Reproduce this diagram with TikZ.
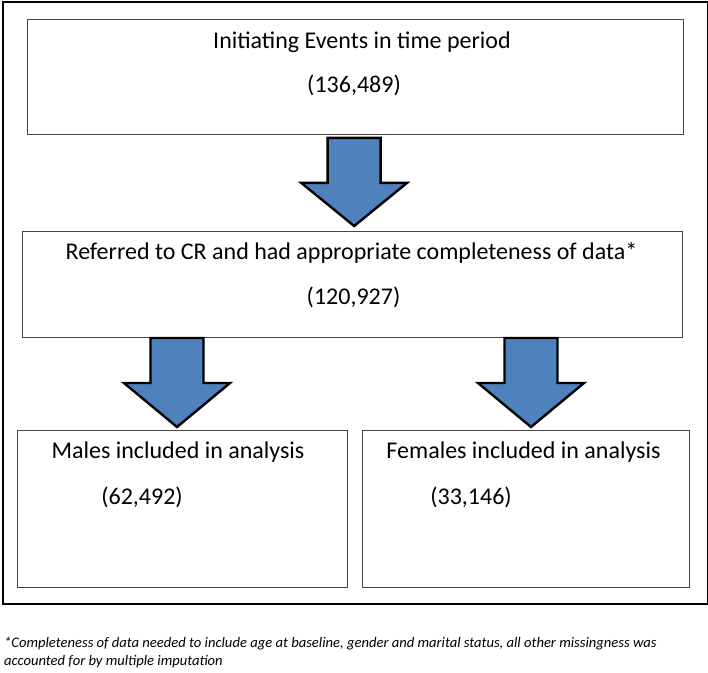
\documentclass[tikz,border=0pt]{standalone}
\usepackage{fontspec}
\setmainfont{Carlito}
\usetikzlibrary{calc}
\definecolor{arrowblue}{RGB}{79,129,189}
\definecolor{boxgray}{RGB}{70,70,70}
\tikzset{
  box/.style={draw=boxgray, line width=1.3pt, rectangle, inner sep=0pt, anchor=north west},
  outerbox/.style={draw=black, line width=2pt, rectangle, inner sep=0pt, anchor=north west},
  lbl/.style={font=\fontsize{24}{28}\selectfont, text=black, inner sep=0pt, anchor=center},
  note/.style={font=\fontsize{14.6}{17}\selectfont\itshape, text=black, inner sep=0pt, anchor=west},
  blockarrow/.style={draw=black, line width=2.4pt, fill=arrowblue, line join=miter}
}
\newcommand\barrow[2]{%
  \draw[blockarrow] ($(#1)+(-26.5,0)$) -- ($(#1)+(26.5,0)$) -- ($(#1)+(26.5,45)$)
    -- ($(#1)+(53,45)$) -- (#2) -- ($(#1)+(-53,45)$) -- ($(#1)+(-26.5,45)$) -- cycle;}
\begin{document}
\begin{tikzpicture}[x=1pt,y=-1pt]
\useasboundingbox (0,0) rectangle (708,672);
\fill[white] (0,0) rectangle (708,672);
\node[outerbox, minimum width=705pt, minimum height=602pt] (outer) at (1.5,1) {};
\node[box, minimum width=656pt, minimum height=115pt] (top) at (27,19) {};
\node[box, minimum width=660pt, minimum height=106pt] (mid) at (22,231) {};
\node[box, minimum width=330pt, minimum height=157pt] (males) at (17,430) {};
\node[box, minimum width=327pt, minimum height=157pt] (females) at (362,430) {};
% texts
\node[lbl] (t1) at (362,42) {Initiating Events in time period};
\node[lbl] (n1) at (354,85) {(136,489)};
\node[lbl] (t2) at (351.5,253) {Referred to CR and had appropriate completeness of data*};
\node[lbl] (n2) at (353.5,297) {(120,927)};
\node[lbl] (t3) at (178,452) {Males included in analysis};
\node[lbl] (n3) at (142,497) {(62,492)};
\node[lbl] (t4) at (523.5,452) {Females included in analysis};
\node[lbl] (n4) at (471,497) {(33,146)};
\node[note] (fn1) at (4,644) {*Completeness of data needed to include age at baseline, gender and marital status, all other missingness was};
\node[note] (fn2) at (4,662) {accounted for by multiple imputation};
% arrows
\coordinate (a1) at ($(top.south)+(-1.5,2.5)$);
\coordinate (a1tip) at (a1 |- mid.north);
\barrow{a1}{$(a1tip)+(0,-5)$}
\coordinate (a2) at (177,338);
\coordinate (a2tip) at (a2 |- males.north);
\barrow{a2}{$(a2tip)+(0,-3)$}
\coordinate (a3) at (531,338);
\coordinate (a3tip) at (a3 |- females.north);
\barrow{a3}{$(a3tip)+(0,-3)$}
\end{tikzpicture}
\end{document}
